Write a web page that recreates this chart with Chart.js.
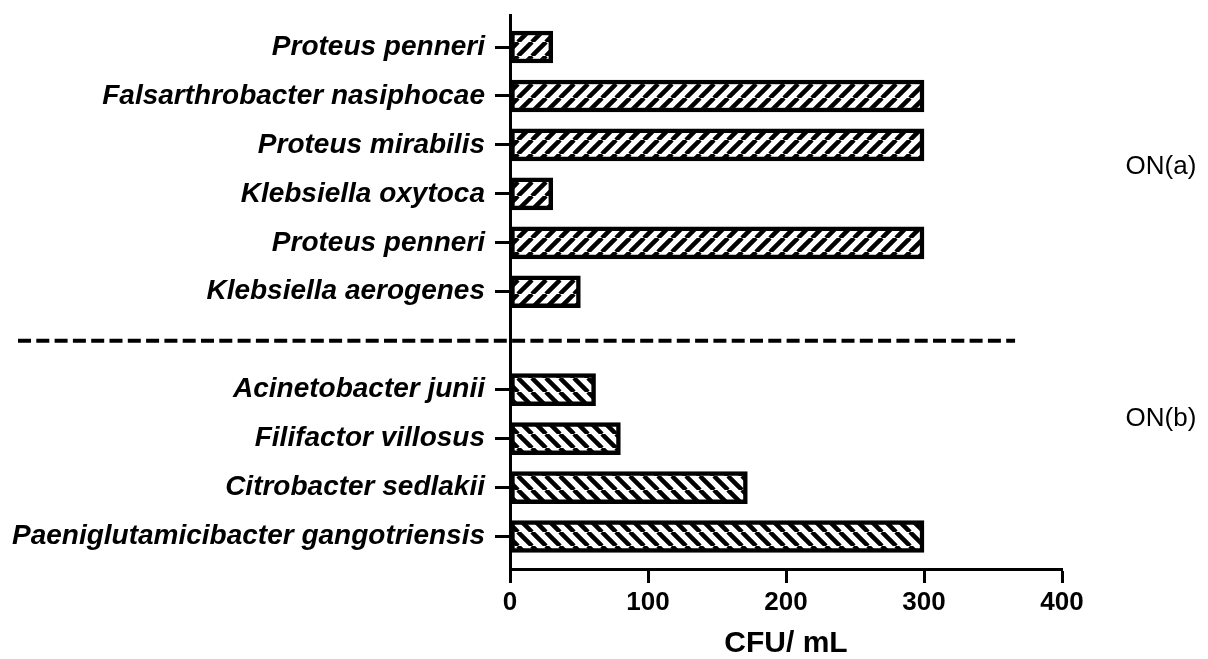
<!DOCTYPE html>
<html>
<head>
<meta charset="utf-8">
<script src="https://cdn.jsdelivr.net/npm/chart.js@4/dist/chart.umd.min.js"></script>
<style>
  html, body { margin: 0; padding: 0; background: #fff; }
  canvas { display: block; }
</style>
</head>
<body>
<canvas id="cfuChart" width="1208" height="659"></canvas>
<script>
// categories top to bottom; the empty one is the gap where the divider sits
const labels = [
  'Proteus penneri',
  'Falsarthrobacter nasiphocae',
  'Proteus mirabilis',
  'Klebsiella oxytoca',
  'Proteus penneri',
  'Klebsiella aerogenes',
  '',
  'Acinetobacter junii',
  'Filifactor villosus',
  'Citrobacter sedlakii',
  'Paeniglutamicibacter gangotriensis'
];
const groups = ['a', 'a', 'a', 'a', 'a', 'a', '', 'b', 'b', 'b', 'b'];
const cfu = [31, 300, 300, 31, 300, 51, null, 62, 80, 172, 300];

const xTicks = [0, 100, 200, 300, 400];
const groupNames = ['ON(a)', 'ON(b)'];
const groupLabelPos = [2.45, 7.6];   // in category units
const dividerIndex = 6;
const dividerEnd = 366;              // x value where the dashed line stops

const FONT = "'Liberation Sans', Arial, sans-serif";
Chart.defaults.color = '#000';
Chart.defaults.font.family = FONT;

function hatch(dir) {
  const s = 14;
  const c = document.createElement('canvas');
  c.width = s; c.height = s;
  const g = c.getContext('2d');
  g.fillStyle = '#fff';
  g.fillRect(0, 0, s, s);
  g.strokeStyle = '#000';
  g.lineWidth = 4.5;
  g.beginPath();
  for (let k = -1; k <= 1; k++) {
    if (dir === '/') {
      g.moveTo(k * s, s); g.lineTo(k * s + s, 0);
    } else {
      g.moveTo(k * s, 0); g.lineTo(k * s + s, s);
    }
  }
  g.stroke();
  return g.createPattern(c, 'repeat');
}

const ctx = document.getElementById('cfuChart').getContext('2d');
const patA = hatch('/');
const patB = hatch('\\');

const points = [];
const fills = [];
cfu.forEach((v, i) => {
  if (v === null) return;
  points.push({ x: v, y: i });
  fills.push(groups[i] === 'a' ? patA : patB);
});

const extras = {
  id: 'extras',
  afterDraw(chart) {
    const c = chart.ctx;
    const xs = chart.scales.x, ys = chart.scales.y;
    // dashed divider
    const yd = ys.getPixelForValue(dividerIndex);
    c.save();
    c.strokeStyle = '#000';
    c.lineWidth = 4;
    c.setLineDash([13, 5.3]);
    c.beginPath();
    c.moveTo(18, yd);
    c.lineTo(xs.getPixelForValue(dividerEnd), yd);
    c.stroke();
    c.setLineDash([]);
    // group names
    c.font = '26px ' + FONT;
    c.fillStyle = '#000';
    c.textAlign = 'center';
    c.textBaseline = 'middle';
    groupNames.forEach((name, i) => {
      c.fillText(name, chart.chartArea.right + 99, ys.getPixelForValue(groupLabelPos[i]));
    });
    c.restore();
  }
};

new Chart(ctx, {
  type: 'bar',
  data: {
    datasets: [{
      data: points,
      backgroundColor: fills,
      borderColor: '#000',
      borderWidth: 4.5,
      borderSkipped: false,
      barThickness: 32
    }]
  },
  options: {
    indexAxis: 'y',
    responsive: false,
    animation: false,
    layout: { padding: { top: 15, right: 146, left: 10, bottom: 0 } },
    plugins: { legend: { display: false }, tooltip: { enabled: false } },
    scales: {
      x: {
        type: 'linear',
        min: 0,
        max: 400,
        offset: false,
        afterBuildTicks: s => { s.ticks = xTicks.map(v => ({ value: v })); },
        afterFit: s => { s.height = 90; },
        border: { color: '#000', width: 3 },
        grid: { drawOnChartArea: false, offset: false, color: '#000', tickLength: 14, tickWidth: 3 },
        ticks: { font: { size: 26, weight: 'bold' }, padding: 4, color: '#000' },
        title: {
          display: true,
          text: 'CFU/ mL',
          font: { size: 30, weight: 'bold', lineHeight: 1 },
          padding: 0,
          color: '#000'
        }
      },
      y: {
        type: 'linear',
        reverse: true,
        min: -0.654,
        max: 10.664,
        offset: false,
        afterBuildTicks: s => {
          s.ticks = labels.map((l, i) => ({ value: i })).filter(t => labels[t.value] !== '');
        },
        afterFit: s => { s.width = 500; s.paddingTop = 0; s.paddingBottom = 0; },
        border: { color: '#000', width: 3 },
        grid: { drawOnChartArea: false, offset: false, color: '#000', tickLength: 15, tickWidth: 3 },
        ticks: {
          font: { size: 28, weight: 'bold', style: 'italic' },
          padding: 10,
          color: '#000',
          autoSkip: false,
          callback: v => labels[v]
        }
      }
    }
  },
  plugins: [extras]
});
</script>
</body>
</html>
